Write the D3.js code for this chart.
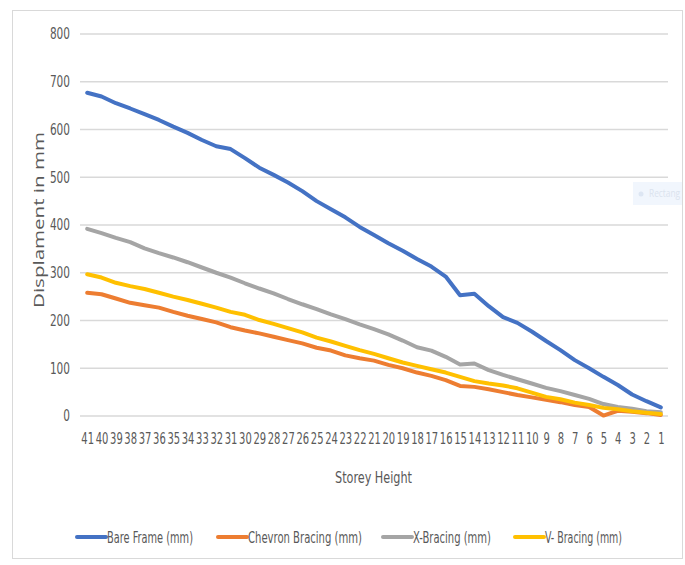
<!DOCTYPE html>
<html>
<head>
<meta charset="utf-8">
<script src="https://cdn.jsdelivr.net/npm/d3@7"></script>
<style>
  body { margin: 0; background: #fff; }
  .narrow { font-family: "Liberation Sans Narrow", "DejaVu Sans Condensed", "Roboto Condensed", sans-serif; font-stretch: condensed; }
</style>
</head>
<body>
<svg id="chart" width="685" height="565"></svg>
<script>
// Data
var storeys = ["41","40","39","38","37","36","35","34","33","32","31","30","29","28","27","26","25","24","23","22","21",
               "20","19","18","17","16","15","14","13","12","11","10","9","8","7","6","5","4","3","2","1"];

var bareFrame = [677,669,655,644,632,620,606,593,578,565,559,540,520,505,489,471,450,433,416,396,
                 379,362,346,329,313,292,253,256,230,207,195,177,157,138,117,100,82,65,45,31,18];
var chevron   = [258,255,246,237,232,227,218,210,203,196,186,179,173,166,159,152,143,137,127,121,
                 116,107,100,91,84,75,63,61,56,50,44,39,34,29,23,19,1,11,9,6,2];
var xBracing  = [392,383,373,364,351,341,332,322,311,300,290,278,267,257,245,234,224,213,203,192,
                 182,171,158,144,137,124,108,110,96,86,77,68,59,52,44,36,25,19,15,10,8];
var vBracing  = [297,290,279,272,266,258,250,243,235,227,218,212,201,193,184,175,164,156,147,138,
                 130,121,112,105,98,91,82,73,68,64,58,49,40,35,28,23,17,14,10,7,4];

var yTicks = [0,100,200,300,400,500,600,700,800];

var seriesNames  = ["Bare Frame (mm)", "Chevron Bracing (mm)", "X-Bracing (mm)", "V- Bracing (mm)"];
var seriesValues = [bareFrame, chevron, xBracing, vBracing];
var seriesColors = ["#4472c4", "#ed7d31", "#a5a5a5", "#ffc000"];

// The svg
var svg = d3.select("#chart");

// outer frame
svg.append("rect")
    .attr("x", 12.5).attr("y", 10.5)
    .attr("width", 670).attr("height", 548)
    .attr("fill", "#fff")
    .attr("stroke", "#d9d9d9");

// Scales
var x = d3.scalePoint()
    .domain(storeys)
    .range([87.2, 660.8]);

var y = d3.scaleLinear()
    .domain([0, 800])
    .range([416, 34]);

// gridlines
svg.append("g")
    .selectAll("line")
    .data(yTicks)
    .enter()
    .append("line")
    .attr("x1", 80).attr("x2", 668)
    .attr("y1", function (d) { return y(d); })
    .attr("y2", function (d) { return y(d); })
    .attr("stroke", "#d9d9d9")
    .attr("stroke-width", 1.3);

// y axis labels
var yAxis = d3.axisLeft(y).tickValues(yTicks).tickSize(0).tickPadding(0);
var gy = svg.append("g")
    .attr("transform", "translate(70,0)")
    .call(yAxis);
gy.select(".domain").remove();
gy.selectAll("text")
    .attr("class", "narrow")
    .style("font-size", "15px")
    .attr("transform", "scale(0.78,1)")
    .attr("fill", "#595959");

// x axis labels
var xAxis = d3.axisBottom(x).tickSize(0).tickPadding(0);
var gx = svg.append("g")
    .attr("transform", "translate(0,433)")
    .call(xAxis);
gx.select(".domain").remove();
gx.selectAll("text")
    .attr("class", "narrow")
    .style("font-size", "15px")
    .attr("transform", "scale(0.74,1)")
    .attr("fill", "#595959");

// axis titles
svg.append("text")
    .attr("transform", "translate(44,220) rotate(-90)")
    .attr("text-anchor", "middle")
    .attr("textLength", 176)
    .attr("lengthAdjust", "spacingAndGlyphs")
    .style("font-family", "'Open Sans', sans-serif")
    .style("font-size", "14px")
    .attr("fill", "#595959")
    .text("Displament in mm");

svg.append("text")
    .attr("class", "narrow")
    .attr("x", 335).attr("y", 483)
    .attr("textLength", 77)
    .attr("lengthAdjust", "spacingAndGlyphs")
    .style("font-size", "16px")
    .attr("fill", "#595959")
    .text("Storey Height");

// lines
var line = d3.line()
    .x(function (d, i) { return x(storeys[i]); })
    .y(function (d) { return y(d); });

svg.append("g")
    .selectAll("path")
    .data(seriesValues)
    .enter()
    .append("path")
    .attr("d", line)
    .attr("fill", "none")
    .attr("stroke", function (d, i) { return seriesColors[i]; })
    .attr("stroke-width", 4)
    .attr("stroke-linejoin", "round")
    .attr("stroke-linecap", "round");

// legend
var legendX = [77, 218, 383, 515];
var legendW = [86, 114, 78, 77];
var legend = svg.append("g")
    .selectAll("g")
    .data(seriesNames)
    .enter()
    .append("g")
    .attr("transform", function (d, i) { return "translate(" + legendX[i] + ",537)"; });

legend.append("line")
    .attr("x1", 0).attr("x2", 29)
    .attr("y1", 0).attr("y2", 0)
    .attr("stroke", function (d, i) { return seriesColors[i]; })
    .attr("stroke-width", 4)
    .attr("stroke-linecap", "round");

legend.append("text")
    .attr("class", "narrow")
    .attr("x", 30).attr("y", 6)
    .attr("textLength", function (d, i) { return legendW[i]; })
    .attr("lengthAdjust", "spacingAndGlyphs")
    .style("font-size", "16px")
    .attr("fill", "#595959")
    .text(function (d) { return d; });

// faint leftover shape on the right edge
var ghost = svg.append("g");
ghost.append("rect")
    .attr("x", 633).attr("y", 182)
    .attr("width", 49).attr("height", 23)
    .attr("fill", "#f1f6fd");
ghost.append("circle")
    .attr("cx", 641).attr("cy", 194).attr("r", 2.5)
    .attr("fill", "#dde6f3");
ghost.append("text")
    .attr("x", 649).attr("y", 197)
    .attr("textLength", 31)
    .attr("lengthAdjust", "spacingAndGlyphs")
    .style("font-family", "'Open Sans', sans-serif")
    .style("font-size", "10px")
    .attr("fill", "#dbe3ee")
    .text("Rectang");
</script>
</body>
</html>
